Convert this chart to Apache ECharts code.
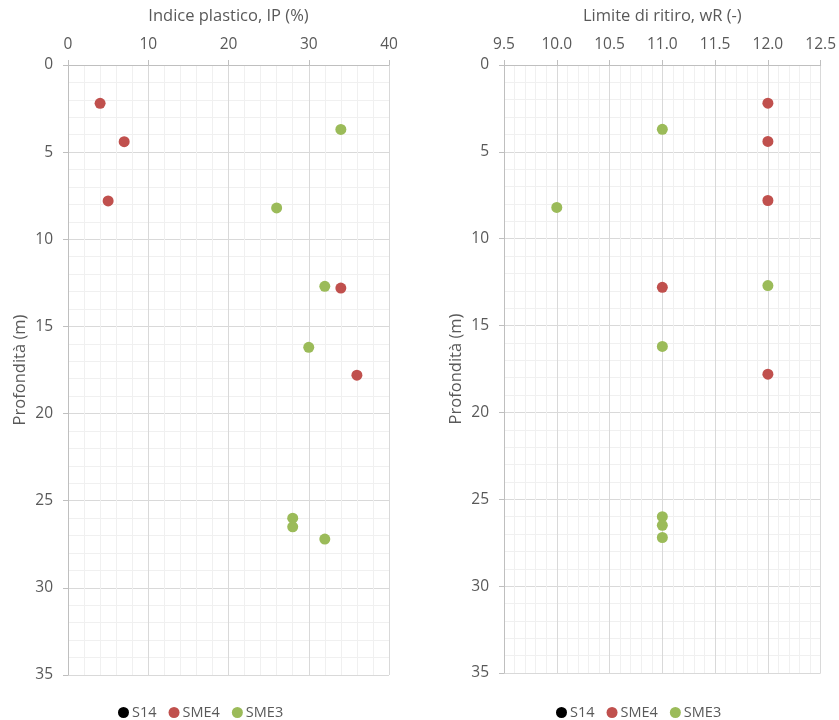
<!DOCTYPE html>
<html>
<head>
<meta charset="utf-8">
<script src="https://cdn.jsdelivr.net/npm/echarts@6/dist/echarts.min.js"></script>
<style>
  html, body { margin: 0; padding: 0; background: #fff; }
  #chart { width: 839px; height: 720px; }
</style>
</head>
<body>
<div id="chart"></div>
<script>
// Sample depths (m)
const depthSME4 = [2.2, 4.4, 7.8, 12.8, 17.8];
const depthSME3 = [3.7, 8.2, 12.7, 16.2, 26.0, 26.5, 27.2];
const depthS14 = [];

// Plasticity index IP (%)
const ipSME4 = [4, 7, 5, 34, 36];
const ipSME3 = [34, 26, 32, 30, 28, 28, 32];
const ipS14 = [];

// Shrinkage limit wR (-)
const wrSME4 = [12.0, 12.0, 12.0, 11.0, 12.0];
const wrSME3 = [11.0, 10.0, 12.0, 11.0, 11.0, 11.0, 11.0];
const wrS14 = [];

const seriesNames = ['S14', 'SME4', 'SME3'];
const seriesColors = ['#000000', '#C0504D', '#9BBB59'];

const FONT = '"Open Sans", "Noto Sans", sans-serif';
const TXT = '#595959';

function pairs(xs, ys) {
  return xs.map((x, i) => [x, ys[i]]);
}

function xAxisCfg(idx, name, min, max, interval, fmt) {
  return {
    type: 'value', gridIndex: idx, position: 'top',
    name: name, nameLocation: 'middle', nameGap: 40,
    nameTextStyle: { color: TXT, fontSize: 16.5, fontFamily: FONT },
    min: min, max: max, interval: interval,
    axisLine: { show: true, lineStyle: { color: '#BFBFBF' } },
    axisTick: { show: true, length: 5, lineStyle: { color: '#BFBFBF' } },
    axisLabel: { color: TXT, fontSize: 15.5, fontFamily: FONT, margin: 12, formatter: fmt },
    splitLine: { show: true, lineStyle: { color: '#D9D9D9' } },
    minorTick: { show: false, splitNumber: 5 },
    minorSplitLine: { show: true, lineStyle: { color: '#F0F0F0' } }
  };
}

function yAxisCfg(idx) {
  return {
    type: 'value', gridIndex: idx, inverse: true,
    name: 'Profondità (m)', nameLocation: 'middle', nameGap: 39,
    nameTextStyle: { color: TXT, fontSize: 16.5, fontFamily: FONT },
    min: 0, max: 35, interval: 5,
    axisLine: { show: true, lineStyle: { color: '#BFBFBF' } },
    axisTick: { show: true, length: 5, lineStyle: { color: '#BFBFBF' } },
    axisLabel: { color: TXT, fontSize: 15.5, fontFamily: FONT, margin: 15 },
    splitLine: { show: true, lineStyle: { color: '#D9D9D9' } },
    minorTick: { show: false, splitNumber: 5 },
    minorSplitLine: { show: true, lineStyle: { color: '#F0F0F0' } }
  };
}

function scatter(name, color, data, idx) {
  return {
    type: 'scatter', name: name, xAxisIndex: idx, yAxisIndex: idx,
    data: data, symbol: 'circle', symbolSize: 11,
    itemStyle: { color: color, opacity: 1 },
    emphasis: { disabled: true }
  };
}

const legendCfg = (left) => ({
  left: left, top: 700, icon: 'circle', itemWidth: 11, itemHeight: 11, itemGap: 12,
  data: seriesNames,
  textStyle: { color: TXT, fontSize: 14.5, fontFamily: FONT, padding: [0, 0, 0, -2] }
});

const chart = echarts.init(document.getElementById('chart'), null, { renderer: 'canvas' });
chart.setOption({
  animation: false,
  backgroundColor: '#ffffff',
  grid: [
    { left: 68, top: 65, width: 321, height: 610 },
    { left: 504, top: 65, width: 317, height: 608 }
  ],
  xAxis: [
    xAxisCfg(0, 'Indice plastico, IP (%)', 0, 40, 10, v => String(v)),
    xAxisCfg(1, 'Limite di ritiro, wR (-)', 9.5, 12.5, 0.5, v => v.toFixed(1))
  ],
  yAxis: [yAxisCfg(0), yAxisCfg(1)],
  legend: [legendCfg(113), legendCfg(551)],
  series: [
    scatter('S14', seriesColors[0], pairs(ipS14, depthS14), 0),
    scatter('SME4', seriesColors[1], pairs(ipSME4, depthSME4), 0),
    scatter('SME3', seriesColors[2], pairs(ipSME3, depthSME3), 0),
    scatter('S14', seriesColors[0], pairs(wrS14, depthS14), 1),
    scatter('SME4', seriesColors[1], pairs(wrSME4, depthSME4), 1),
    scatter('SME3', seriesColors[2], pairs(wrSME3, depthSME3), 1)
  ]
});
</script>
</body>
</html>
